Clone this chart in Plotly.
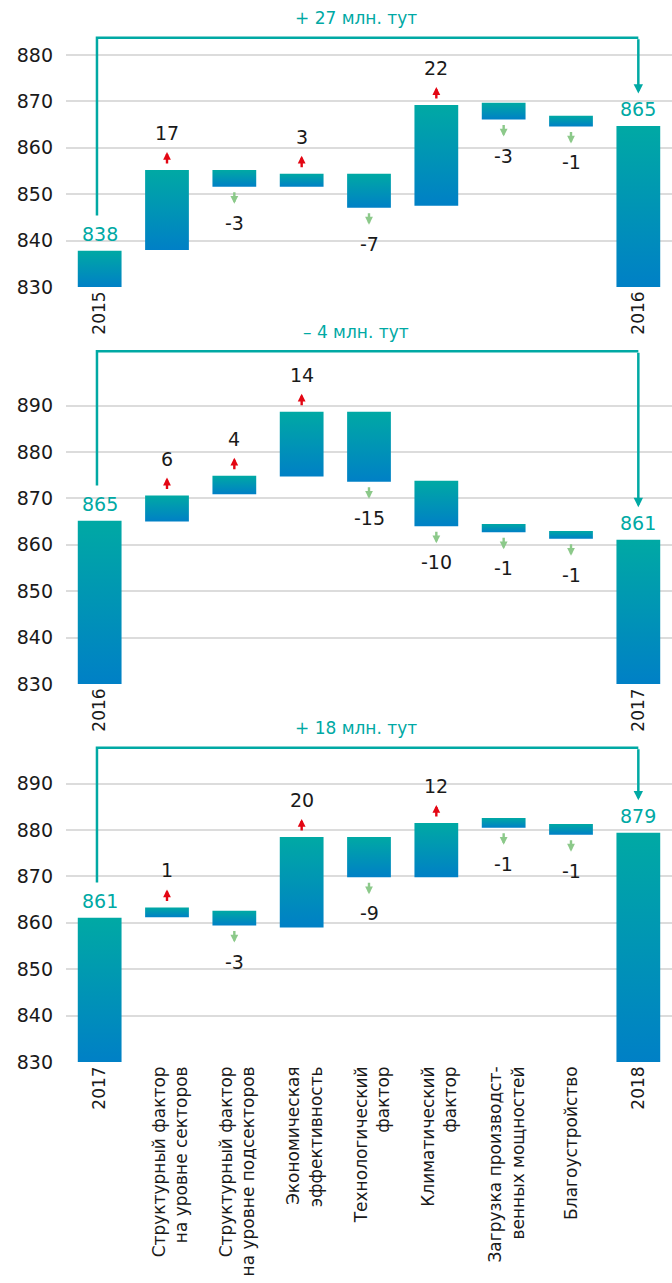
import plotly.graph_objects as go

# ---------------- DATA ----------------
tick_p1 = ["2015", "", "", "", "", "", "", "", "2016"]
tick_p2 = ["2016", "", "", "", "", "", "", "", "2017"]
tick_p3 = ["2017",
           "Структурный фактор<br>на уровне секторов",
           "Структурный фактор<br>на уровне подсекторов",
           "Экономическая<br>эффективность",
           "Технологический<br>фактор",
           "Климатический<br>фактор",
           "Загрузка производст-<br>венных мощностей",
           "Благоустройство",
           "2018"]

p1_bottom = [830, 838.0, 851.6, 851.6, 847.1, 847.5, 866.1, 864.6, 830]
p1_top = [837.8, 855.2, 855.2, 854.4, 854.4, 869.2, 869.7, 866.9, 864.7]
p1_labels = ["838", "17", "-3", "3", "-7", "22", "-3", "-1", "865"]
p1_change = "+ 27 млн. тут"

p2_bottom = [830, 865.0, 870.9, 874.7, 873.6, 864.0, 862.7, 861.3, 830]
p2_top = [865.2, 870.6, 874.9, 888.7, 888.7, 873.8, 864.5, 863.0, 861.1]
p2_labels = ["865", "6", "4", "14", "-15", "-10", "-1", "-1", "861"]
p2_change = "– 4 млн. тут"

p3_bottom = [830, 861.2, 859.4, 859.0, 869.8, 869.8, 880.5, 879.0, 830]
p3_top = [861.1, 863.3, 862.6, 878.5, 878.5, 881.5, 882.6, 881.3, 879.4]
p3_labels = ["861", "1", "-3", "20", "-9", "12", "-1", "-1", "879"]
p3_change = "+ 18 млн. тут"

yticks_p1 = [830, 840, 850, 860, 870, 880]
yticks_p23 = [830, 840, 850, 860, 870, 880, 890]

# ---------------- STYLE / LAYOUT ----------------
FONT = "DejaVu Sans"
TEAL = "#00A9A4"
BLUE = "#0080C6"
RED = "#E30613"
GREEN = "#8CC98A"
GRID = "#DCDCDC"
TXT = "#1A1A1A"
FS = 17
NFS = 19

W, HFIG = 672, 1283
MB = 221
H = HFIG - MB
PPU = 4.64
BAR_W = 0.65

panels = [
    dict(bottom=p1_bottom, top=p1_top, labels=p1_labels, change=p1_change,
         ticks=tick_p1, yticks=yticks_p1, base_px=287, ytop=891, level=883.7, text_y=888.0),
    dict(bottom=p2_bottom, top=p2_top, labels=p2_labels, change=p2_change,
         ticks=tick_p2, yticks=yticks_p23, base_px=684, ytop=908, level=901.7, text_y=905.8),
    dict(bottom=p3_bottom, top=p3_top, labels=p3_labels, change=p3_change,
         ticks=tick_p3, yticks=yticks_p23, base_px=1062, ytop=905, level=897.7, text_y=902.0),
]

fig = go.Figure()
shapes, annotations = [], []
layout = {}

for k, p in enumerate(panels, start=1):
    xa = "x" if k == 1 else f"x{k}"
    ya = "y" if k == 1 else f"y{k}"
    n = len(p["top"])
    for i in range(n):
        x0, x1 = i - BAR_W / 2, i + BAR_W / 2
        b, t = p["bottom"][i], p["top"][i]
        fig.add_trace(go.Scatter(
            x=[x0, x1, x1, x0, x0], y=[b, b, t, t, b],
            mode="lines", line=dict(width=0), fill="toself",
            fillgradient=dict(type="vertical", colorscale=[[0, BLUE], [1, TEAL]]),
            hoverinfo="skip", showlegend=False, xaxis=xa, yaxis=ya))
        lab = p["labels"][i]
        if i == 0 or i == n - 1:
            annotations.append(dict(x=i, y=t, xref=xa, yref=ya, text=lab, showarrow=False,
                                    yshift=17, font=dict(color=TEAL, size=NFS, family=FONT)))
        elif lab.startswith("-"):
            annotations.append(dict(x=i, y=b, xref=xa, yref=ya, text="", showarrow=True,
                                    ax=0, ay=-13, yshift=-17, arrowcolor=GREEN, arrowwidth=2.4,
                                    arrowhead=2, arrowsize=0.65, font=dict(size=1)))
            annotations.append(dict(x=i, y=b, xref=xa, yref=ya, text=lab, showarrow=False,
                                    yshift=-36, font=dict(color=TXT, size=NFS, family=FONT)))
        else:
            annotations.append(dict(x=i, y=t, xref=xa, yref=ya, text="", showarrow=True,
                                    ax=0, ay=13, yshift=18, arrowcolor=RED, arrowwidth=2.4,
                                    arrowhead=2, arrowsize=0.65, font=dict(size=1)))
            annotations.append(dict(x=i, y=t, xref=xa, yref=ya, text=lab, showarrow=False,
                                    yshift=37, font=dict(color=TXT, size=NFS, family=FONT)))
    # bracket
    start_y = p["top"][0] + 7.6
    tip_y = p["top"][-1] + 7.0
    shapes.append(dict(type="path", xref=xa, yref=ya,
                       path=f"M -0.04,{start_y} L -0.04,{p['level']} L {n-1},{p['level']}",
                       line=dict(color=TEAL, width=2.5)))
    annotations.append(dict(x=n - 1, y=tip_y, ax=n - 1, ay=p["level"], xref=xa, yref=ya,
                            axref=xa, ayref=ya, text="", showarrow=True, arrowcolor=TEAL,
                            arrowwidth=2.5, arrowhead=2, arrowsize=0.75, font=dict(size=1)))
    annotations.append(dict(x=3.8, y=p["text_y"], xref=xa, yref=ya, text=p["change"],
                            showarrow=False, font=dict(color=TEAL, size=FS, family=FONT)))

    # axes
    d0 = (H - p["base_px"]) / H
    d1 = min(1.0, (H - p["base_px"] + (p["ytop"] - 830) * PPU) / H)
    tickvals = [i + (0.05 if "<br>" in p["ticks"][i] else 0) for i in range(n)]
    layout[f"xaxis{'' if k == 1 else k}"] = dict(
        range=[-0.5, n - 0.5], anchor=ya, showgrid=False, zeroline=False, showline=False,
        tickvals=tickvals, ticktext=p["ticks"], tickangle=-90, ticks="", automargin=False,
        tickfont=dict(color=TXT, size=FS, family=FONT), fixedrange=True)
    layout[f"yaxis{'' if k == 1 else k}"] = dict(
        domain=[d0, d1], range=[830, p["ytop"]], anchor=xa, tickvals=p["yticks"],
        showgrid=True, gridcolor=GRID, gridwidth=2, zeroline=False, showline=False,
        ticks="", ticklabelstandoff=12, automargin=False,
        tickfont=dict(color=TXT, size=NFS, family=FONT), fixedrange=True)

fig.update_layout(
    width=W, height=HFIG, margin=dict(l=66, r=0, t=0, b=MB),
    plot_bgcolor="white", paper_bgcolor="white",
    shapes=shapes, annotations=annotations, showlegend=False,
    font=dict(family=FONT, size=FS, color=TXT), **layout)

fig.write_html("out.html", config={"displayModeBar": False},
               post_script="document.body.style.margin='0';document.body.style.overflow='hidden';")
